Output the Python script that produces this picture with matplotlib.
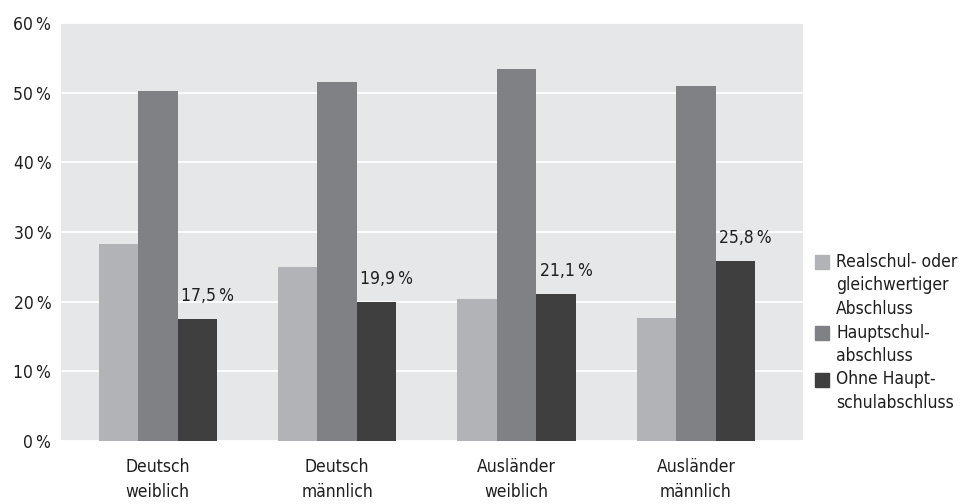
import numpy as np
import matplotlib.pyplot as plt
from matplotlib.patches import Rectangle

groups = ['Deutsch\nweiblich', 'Deutsch\nmännlich', 'Ausländer\nweiblich', 'Ausländer\nmännlich']
realschul = [28.3, 25.0, 20.4, 17.6]
hauptschul = [50.3, 51.5, 53.4, 51.0]
ohne = [17.5, 19.9, 21.1, 25.8]
legend_labels = [['Realschul- oder', 'gleichwertiger', 'Abschluss'],
                 ['Hauptschul-', 'abschluss'],
                 ['Ohne Haupt-', 'schulabschluss']]
colors = ['#b2b3b6', '#808184', '#3f3f3f']

plt.rcParams['font.family'] = 'DejaVu Sans'
plt.rcParams['font.stretch'] = 'condensed'
txt = '#1e1e1e'

fig = plt.figure(figsize=(9.68, 5.04), dpi=100)
ax = fig.add_axes([0.063, 0.125, 0.767, 0.829])
ax.set_facecolor('#e6e7e9')

x = np.arange(len(groups))
w = 0.22
series = [realschul, hauptschul, ohne]
for i, vals in enumerate(series):
    ax.bar(x + (i - 1) * w, vals, width=w, color=colors[i], zorder=2)

for xi, v in zip(x, ohne):
    ax.text(xi + w / 2 + 0.02, v + 2.0, f'{v:.1f}'.replace('.', ',') + '\u2009%',
            ha='left', va='bottom', fontsize=12.5, color=txt, fontstretch='condensed')

ax.set_ylim(0, 60)
ax.set_xlim(-0.54, 3.6)
ax.set_yticks(range(0, 61, 10))
ax.set_yticklabels([f'{t}\u2009%' for t in range(0, 61, 10)])
ax.set_xticks(x)
ax.set_xticklabels(groups, linespacing=1.5)
ax.tick_params(length=0, labelsize=12.5, labelcolor=txt, pad=7)
ax.tick_params(axis='x', pad=12)
ax.yaxis.grid(True, color='white', linewidth=1.3, zorder=1)
ax.set_axisbelow(True)
for s in ax.spines.values():
    s.set_visible(False)

# legend drawn by hand: swatch next to the first line of each entry
line_h = 23.5 / 504
y0 = 1 - 262 / 504
row = 0
for lines, c in zip(legend_labels, colors):
    yy = y0 - row * line_h
    fig.patches.append(Rectangle((815 / 968, yy - 7 / 504), 14 / 968, 14 / 504,
                                 transform=fig.transFigure, color=c))
    for k, line in enumerate(lines):
        fig.text(836 / 968, yy - k * line_h, line, ha='left', va='center',
                 fontsize=12.5, color=txt, fontstretch='condensed')
    row += len(lines)

fig.savefig('out.png', dpi=100)
